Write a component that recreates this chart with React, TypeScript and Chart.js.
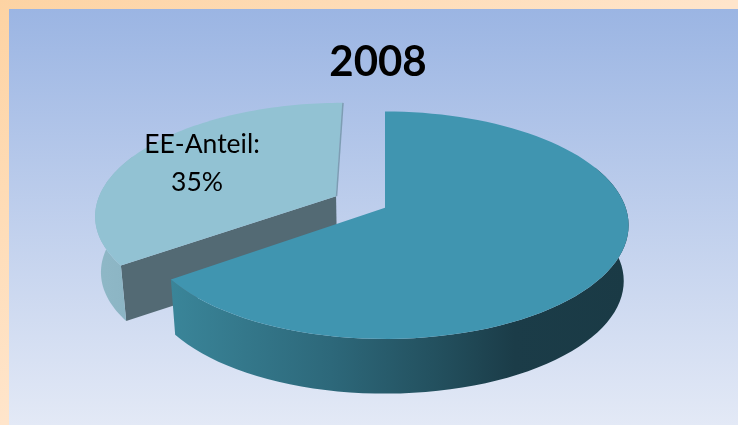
import React, { useEffect, useRef } from "react";
import { Chart, registerables } from "chart.js";

Chart.register(...registerables);

const categories = ["Sonstige", "EE-Anteil"];
const shares = [65, 35];
const chartTitle = "2008";
const labelLines = ["EE-Anteil:", "35%"];

const topColors = ["#4095b0", "#92c2d3"];
const cutColors = ["#1f4855", "#536a74"];
const edgeColor = "#7d9db3";
const rimStops: [number, string][][] = [
  [[0, "#3a8599"], [0.35, "#2d687a"], [0.6, "#224e5c"], [0.75, "#1b3c48"], [1, "#1a3a45"]],
  [[0, "#8fb8c7"], [1, "#76a0af"]],
];

// Tilted view of the pie plane
const SHIFT_X = 7;
const STRETCH_X = 2.233;
const STRETCH_Y = 1.03;
const TILT = 0.154;
const DEPTH = 56;
const BASE_SHRINK_X = 0.98;
const BASE_SHRINK_Y = 0.99;

type Pt = [number, number];

const tiltedPie = {
  id: "tiltedPie",
  // The library's arc geometry is redrawn in perspective instead of flat
  beforeDatasetsDraw(chart: any) {
    const { ctx } = chart;
    const arcs = chart.getDatasetMeta(0).data;
    const order = arcs.map((_: any, i: number) => i).sort((a: number, b: number) => (arcs[b].options.offset || 0) - (arcs[a].options.offset || 0));

    for (const i of order) {
      const arc = arcs[i];
      const R = arc.outerRadius;
      const mid = (arc.startAngle + arc.endAngle) / 2;
      const off = (arc.options.offset || 0) / R;
      const ox = Math.cos(mid) * off;
      const oy = Math.sin(mid) * off;

      const project = (u: number, v: number, base: boolean): Pt => {
        const w = 1 - TILT * v;
        return [
          arc.x + SHIFT_X + (R * STRETCH_X * (base ? BASE_SHRINK_X : 1) * u) / w,
          arc.y + (R * STRETCH_Y * (base ? BASE_SHRINK_Y : 1) * v) / w + (base ? DEPTH : 0),
        ];
      };
      // Rim samples; frontOnly keeps the part of the rim turned towards the viewer
      const rim = (base: boolean, frontOnly: boolean): Pt[] => {
        const pts: Pt[] = [];
        const steps = 90;
        for (let s = 0; s <= steps; s++) {
          const a = arc.startAngle + ((arc.endAngle - arc.startAngle) * s) / steps;
          if (frontOnly && Math.sin(a) < -0.4) continue;
          pts.push(project(ox + Math.cos(a), oy + Math.sin(a), base));
        }
        return pts;
      };
      const fill = (pts: Pt[], style: any) => {
        ctx.beginPath();
        pts.forEach((p, n) => (n ? ctx.lineTo(p[0], p[1]) : ctx.moveTo(p[0], p[1])));
        ctx.closePath();
        ctx.fillStyle = style;
        ctx.fill();
      };

      const topRim = rim(false, false);
      const baseRim = rim(true, false);
      const frontTop = rim(false, true);
      const frontBase = rim(true, true);
      const apexTop = project(ox, oy, false);
      const apexBase = project(ox, oy, true);
      const rimEnd = topRim[topRim.length - 1];

      // Near cut face; the far one only shows as a thin edge
      fill([apexTop, topRim[0], baseRim[0], apexBase], cutColors[i]);

      // Curved outer wall, shaded from left to right
      const xs = topRim.map((p) => p[0]);
      const grad = ctx.createLinearGradient(Math.min(...xs), 0, Math.max(...xs), 0);
      rimStops[i].forEach(([at, c]) => grad.addColorStop(at, c));
      fill([...frontTop, ...frontBase.slice().reverse()], grad);

      // Top face
      fill([apexTop, ...topRim], topColors[i]);

      if (i === 1) {
        ctx.beginPath();
        ctx.moveTo(apexTop[0] + 0.5, apexTop[1]);
        ctx.lineTo(rimEnd[0] + 0.5, rimEnd[1]);
        ctx.strokeStyle = edgeColor;
        ctx.lineWidth = 1.5;
        ctx.stroke();
      }
    }

    // Text sitting on the exploded slice
    const arc = arcs[1];
    const mid = (arc.startAngle + arc.endAngle) / 2;
    const off = arc.options.offset / arc.outerRadius;
    const rho = 0.67;
    const u = Math.cos(mid) * (off + rho);
    const v = Math.sin(mid) * (off + rho);
    const w = 1 - TILT * v;
    const lx = arc.x + SHIFT_X + (arc.outerRadius * STRETCH_X * u) / w;
    const ly = arc.y + (arc.outerRadius * STRETCH_Y * v) / w;
    ctx.fillStyle = "#000";
    ctx.font = "26.5px Lato";
    ctx.textAlign = "center";
    ctx.textBaseline = "middle";
    ctx.fillText(labelLines[0], lx - 1, ly - 20);
    ctx.fillText(labelLines[1], lx - 6, ly + 18);
    return false;
  },
};

export default function App() {
  const ref = useRef<HTMLCanvasElement>(null);
  useEffect(() => {
    const chart = new Chart(ref.current!, {
      type: "pie",
      data: {
        labels: categories,
        datasets: [{ data: shares, backgroundColor: topColors, borderWidth: 0, offset: [0, 25] }],
      },
      plugins: [tiltedPie],
      options: {
        animation: false,
        responsive: false,
        layout: { padding: { bottom: 97 } },
        plugins: {
          legend: { display: false },
          tooltip: { enabled: false },
          title: {
            display: true,
            text: chartTitle,
            color: "#000",
            font: { family: "Lato", size: 42, weight: "bold" },
            padding: { top: 37, bottom: 0 },
          },
        },
      },
    });
    return () => chart.destroy();
  }, []);

  return (
    <div style={{ position: "fixed", inset: 0, width: 738, height: 425, overflow: "hidden", background: "linear-gradient(to bottom right, #fdd3a3, #ffe5cb 50%)" }}>
      <div style={{ position: "absolute", left: 9, top: 9, right: 0, bottom: 0, background: "linear-gradient(#9bb5e3, #e3e9f6)" }} />
      <canvas ref={ref} width={720} height={425} style={{ position: "absolute", left: 18, top: 0, display: "block" }} />
    </div>
  );
}
